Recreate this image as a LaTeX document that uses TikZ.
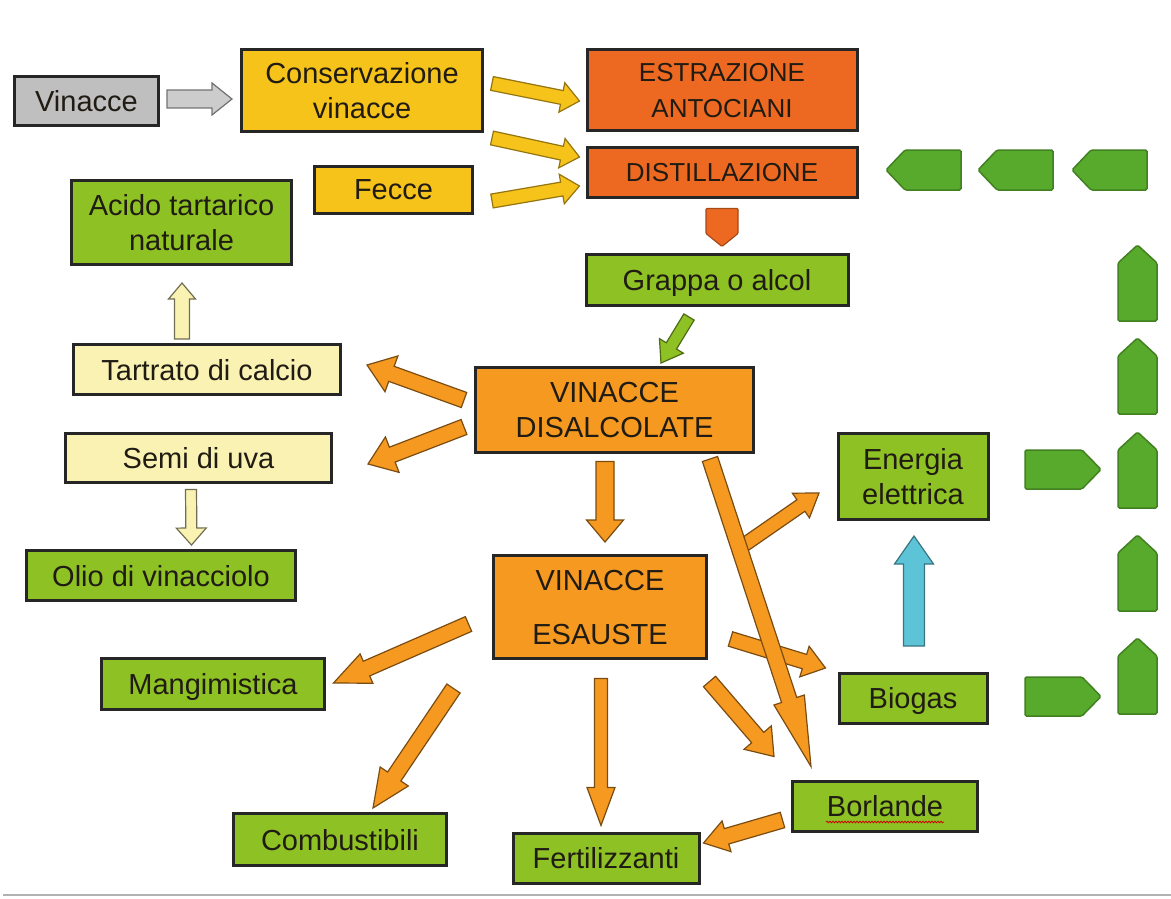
\documentclass[tikz,border=0pt]{standalone}
\usepackage{fontspec}
\setmainfont{Liberation Sans}
\usetikzlibrary{calc,decorations.pathmorphing}

\definecolor{grigio}{RGB}{191,191,191}
\definecolor{giallo}{RGB}{246,195,26}
\definecolor{rosso}{RGB}{237,105,33}
\definecolor{arancio}{RGB}{245,153,33}
\definecolor{verde}{RGB}{142,193,36}
\definecolor{paglia}{RGB}{250,242,178}
\definecolor{foglia}{RGB}{88,170,44}
\definecolor{azzurro}{RGB}{93,195,214}
\definecolor{testo}{RGB}{32,28,20}

\tikzset{
	arr shaft/.store in=\arrshaft,
	arr head/.store in=\arrhead,
	arr len/.store in=\arrlen,
	arr shaft=7pt, arr head=16pt, arr len=22pt
}

% freccia piena da #2 a #3
\newcommand{\blockarrow}[3][]{%
	\begin{scope}[line width=1.2pt,line join=miter,#1]
	\path #2 coordinate (ba-s) #3 coordinate (ba-e);
	\coordinate (ba-n) at ($(ba-e)!\arrlen!(ba-s)$);
	\filldraw ($(ba-s)!\arrshaft!90:(ba-e)$) -- ($(ba-n)!\arrshaft!90:(ba-e)$)
		-- ($(ba-n)!\arrhead!90:(ba-e)$) -- (ba-e)
		-- ($(ba-n)!\arrhead!-90:(ba-e)$) -- ($(ba-n)!\arrshaft!-90:(ba-e)$)
		-- ($(ba-s)!\arrshaft!-90:(ba-e)$) -- cycle;
	\end{scope}}

\begin{document}
\begin{tikzpicture}[x=1pt,y=-1pt,
	box/.style={draw=black!85,line width=3pt,text=testo,align=center,inner sep=0pt,
		text depth=0pt,font=\fontsize{29}{35}\selectfont},
	frgrigio/.style={fill=grigio!80!white,draw=black!55},
	frgiallo/.style={fill=giallo,draw=giallo!60!black},
	frarancio/.style={fill=arancio,draw=arancio!50!black},
	frpaglia/.style={fill=paglia,draw=paglia!45!black},
	frverde/.style={fill=verde,draw=verde!55!black},
	frazzurro/.style={fill=azzurro,draw=azzurro!60!black},
	chain/.style={fill=foglia,draw=foglia!75!black,line width=1.5pt,rounded corners=1.5pt}]
	\useasboundingbox (0,0) rectangle (1171,899);
	\draw[black!30,line width=2pt] (3,895) -- (1171,895);

	% caselle
	\node[box,fill=grigio,minimum width=144pt,minimum height=48pt] (vin) at (86.5,101) {Vinacce};
	\node[box,fill=giallo,minimum width=241pt,minimum height=82pt] (cons) at (362,90.5) {Conservazione\\vinacce};
	\node[box,fill=rosso,minimum width=270pt,minimum height=81pt,font=\fontsize{26}{36}\selectfont] (estr) at (722,90) {ESTRAZIONE\\ANTOCIANI};
	\node[box,fill=rosso,minimum width=270pt,minimum height=50pt,font=\fontsize{26}{36}\selectfont] (dist) at (722,172) {DISTILLAZIONE};
	\node[box,fill=giallo,minimum width=158pt,minimum height=47pt] (fecce) at (393.5,190) {Fecce};
	\node[box,fill=verde,minimum width=220pt,minimum height=84pt] (acido) at (181.5,222.5) {Acido tartarico\\naturale};
	\node[box,fill=verde,minimum width=262pt,minimum height=51pt] (grappa) at (717,280) {Grappa o alcol};
	\node[box,fill=paglia,minimum width=267pt,minimum height=50pt] (tart) at (207,369.5) {Tartrato di calcio};
	\node[box,fill=paglia,minimum width=266pt,minimum height=49pt] (semi) at (198.5,458) {Semi di uva};
	\node[box,fill=verde,minimum width=269pt,minimum height=50pt] (olio) at (161,575.5) {Olio di vinacciolo};
	\node[box,fill=arancio,minimum width=278pt,minimum height=85pt] (disal) at (614.5,410) {VINACCE\\DISALCOLATE};
	\node[box,fill=arancio,minimum width=213pt,minimum height=103pt,font=\fontsize{29}{54}\selectfont] (esau) at (600,607) {VINACCE\\ESAUSTE};
	\node[box,fill=verde,minimum width=150pt,minimum height=86pt] (energia) at (913,476) {Energia\\elettrica};
	\node[box,fill=verde,minimum width=148pt,minimum height=50pt] (biogas) at (913,698) {Biogas};
	\node[box,fill=verde,minimum width=185pt,minimum height=50pt] (borl) at (885,806) {Borlande};
	\node[box,fill=verde,minimum width=186pt,minimum height=50pt] (fert) at (606,858) {Fertilizzanti};
	\node[box,fill=verde,minimum width=213pt,minimum height=52pt] (comb) at (340,839.5) {Combustibili};
	\node[box,fill=verde,minimum width=223pt,minimum height=51pt] (mang) at (213,684) {Mangimistica};
	\draw[red!80!black,line width=0.8pt,decorate,decoration={snake,amplitude=0.8pt,segment length=3pt}]
		($(borl.center)+(-59,16)$) -- ($(borl.center)+(59,16)$);

	% frecce
	\blockarrow[frgrigio,arr shaft=9pt,arr head=16pt,arr len=20pt]{($(vin.east)+(7,-2)$)}{($(cons.west)+(-8,8.5)$)}
	\blockarrow[frgiallo,arr shaft=7pt,arr head=15pt,arr len=18pt]{($(cons.east)+(8,-7)$)}{($(estr.west)+(-6,11)$)}
	\blockarrow[frgiallo,arr shaft=7pt,arr head=15pt,arr len=18pt]{($(cons.south east)+(8,5)$)}{($(dist.west)+(-6,-15)$)}
	\blockarrow[frgiallo,arr shaft=7pt,arr head=15pt,arr len=18pt]{($(fecce.east)+(18,11)$)}{($(dist.west)+(-6,14)$)}
	\filldraw[fill=rosso,draw=rosso!70!black,line width=1.2pt,rounded corners=1pt]
		($(dist.south)+(-16,10)$) -- ++(32,0) -- ++(0,25) -- ++(-16,13) -- ++(-16,-13) -- cycle;
	\blockarrow[frverde,arr shaft=6pt,arr head=14pt,arr len=20pt]{($(grappa.south)+(-28,10)$)}{($(disal.north)+(46.5,-3)$)}
	\blockarrow[frarancio,arr shaft=8pt,arr head=19pt,arr len=26pt]{($(disal.west)+(-10,-10)$)}{($(tart.east)+(25,-4.5)$)}
	\blockarrow[frarancio,arr shaft=8pt,arr head=19pt,arr len=26pt]{($(disal.west)+(-10,17)$)}{($(semi.east)+(35,6)$)}
	\blockarrow[frpaglia,arr shaft=7.5pt,arr head=13.5pt,arr len=16pt]{($(tart.north)+(-25,-4)$)}{($(acido.south)+(0.5,17)$)}
	\blockarrow[frpaglia,arr shaft=5.5pt,arr head=15pt,arr len=17pt]{($(semi.south)+(-7.5,5.5)$)}{($(olio.north)+(30.5,-4)$)}
	\blockarrow[frarancio,arr shaft=9pt,arr head=18.5pt,arr len=22pt]{($(disal.south)+(-9.5,7.5)$)}{($(esau.north)+(5,-12)$)}
	\coordinate (lungo-s) at ($(disal.south east)+(-45,5)$);
	\coordinate (lungo-e) at ($(borl.north)+(-74,-13)$);
	\coordinate (bivio) at ($(lungo-s)!0.29!(lungo-e)$);
	\blockarrow[frarancio,arr shaft=7pt,arr head=15pt,arr len=22pt]{(bivio)}{($(energia.west)+(-17.5,17)$)}
	\blockarrow[frarancio,arr shaft=7.5pt,arr head=16pt,arr len=22pt]{($(esau.east)+(22.5,32)$)}{($(biogas.west)+(-12,-30)$)}
	\blockarrow[frarancio,arr shaft=8pt,arr head=16pt,arr len=70pt]{(lungo-s)}{(lungo-e)}
	\blockarrow[frarancio,arr shaft=8pt,arr head=18pt,arr len=25pt]{($(esau.south east)+(1.5,21.5)$)}{($(borl.north west)+(-17,-23)$)}
	\blockarrow[frarancio,arr shaft=6.5pt,arr head=14pt,arr len=38pt]{($(esau.south)+(1,18.5)$)}{($(fert.north)+(-5,-6)$)}
	\blockarrow[frarancio,arr shaft=8pt,arr head=16pt,arr len=36pt]{($(esau.west)+(-23.5,17)$)}{($(mang.east)+(7.5,-1)$)}
	\blockarrow[frarancio,arr shaft=8pt,arr head=17pt,arr len=38pt]{($(esau.south west)+(-38.5,28.5)$)}{($(comb.north)+(33,-4)$)}
	\blockarrow[frarancio,arr shaft=8pt,arr head=16pt,arr len=24pt]{($(borl.west)+(-8.5,14)$)}{($(fert.east)+(3,-15)$)}
	\blockarrow[frazzurro,arr shaft=10.5pt,arr head=19.5pt,arr len=28pt]{($(biogas.north)+(1,-25.5)$)}{($(energia.south)+(1,15.5)$)}

	% catena verde
	\foreach \x in {886,978,1072}
		\filldraw[chain] (\x+75,150) -- (\x+19,150) -- (\x,170) -- (\x+19,190) -- (\x+75,190) -- cycle;
	\foreach \y in {245,338,432,535,638}
		\filldraw[chain] (1118,\y+76) -- (1118,\y+18) -- (1137.5,\y) -- (1157,\y+18) -- (1157,\y+76) -- cycle;
	\foreach \y in {450,677}
		\filldraw[chain] (1025,\y) -- (1082,\y) -- (1101,\y+19.5) -- (1082,\y+39) -- (1025,\y+39) -- cycle;
\end{tikzpicture}
\end{document}
